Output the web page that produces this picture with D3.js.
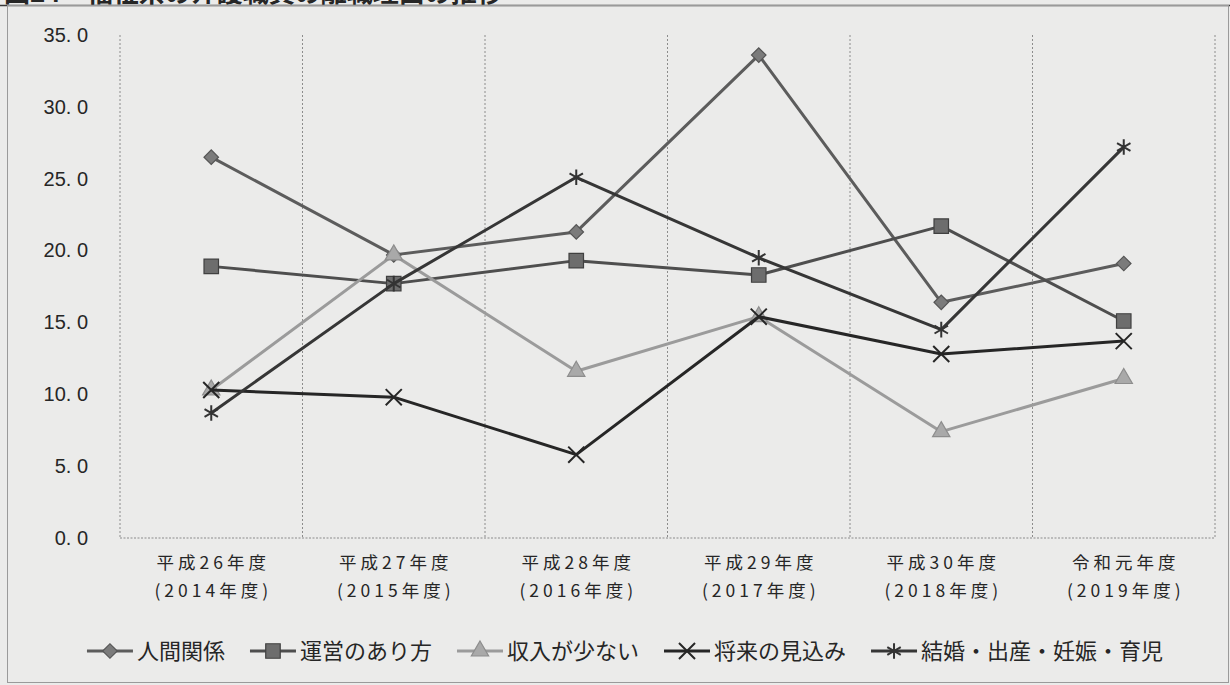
<!DOCTYPE html>
<html lang="ja">
<head>
<meta charset="utf-8">
<script src="https://cdn.jsdelivr.net/npm/d3@7"></script>
<style>
  html, body { margin: 0; padding: 0; background: #ebebea; }
  svg { display: block; }
  text { fill: #262626; }
</style>
</head>
<body>
<svg id="chart" width="1230" height="685"></svg>
<script>
// ---- data ----
const categories = ["H26", "H27", "H28", "H29", "H30", "R1"];
const categoryLine1 = ["平成26年度", "平成27年度", "平成28年度", "平成29年度", "平成30年度", "令和元年度"];
const categoryLine2 = ["(2014年度)", "(2015年度)", "(2016年度)", "(2017年度)", "(2018年度)", "(2019年度)"];

const seriesNames = ["人間関係", "運営のあり方", "収入が少ない", "将来の見込み", "結婚・出産・妊娠・育児"];
const humanRelations = [26.5, 19.7, 21.3, 33.6, 16.4, 19.1];
const management     = [18.9, 17.7, 19.3, 18.3, 21.7, 15.1];
const lowIncome      = [10.3, 19.7, 11.6, 15.4, 7.4, 11.1];
const futureOutlook  = [10.3, 9.8, 5.8, 15.4, 12.8, 13.7];
const lifeEvents     = [8.7, 17.7, 25.1, 19.5, 14.5, 27.2];

const yTicks = [0, 5, 10, 15, 20, 25, 30, 35];
const titleText = "図24　福祉系の介護職員の離職理由の推移";

// ---- styles ----
const styles = [
  { line: "#5c5c5c", fill: "#7b7b7b", stroke: "#555", symbol: d3.symbolSquare, size: 105, rotate: 45, filled: true },
  { line: "#4e4e4e", fill: "#6d6d6d", stroke: "#404040", symbol: d3.symbolSquare, size: 210, rotate: 0, filled: true },
  { line: "#9b9b9b", fill: "#a9a9a9", stroke: "#8d8d8d", symbol: d3.symbolTriangle, size: 130, rotate: 0, filled: true },
  { line: "#262626", fill: "none", stroke: "#262626", symbol: d3.symbolTimes, size: 170, rotate: 0, filled: false },
  { line: "#363636", fill: "none", stroke: "#333", symbol: d3.symbolAsterisk, size: 170, rotate: 0, filled: false }
];
const seriesValues = [humanRelations, management, lowIncome, futureOutlook, lifeEvents];

const svg = d3.select("#chart");
const W = 1230, H = 685;
const plot = { left: 120, right: 1215, top: 35, bottom: 538 };

svg.append("rect").attr("width", W).attr("height", H).attr("fill", "#ebebea");

// heading (runs along the very top edge) and outer frame
svg.append("text")
  .attr("x", 4).attr("y", 2)
  .attr("font-family", "'Noto Sans CJK JP', sans-serif")
  .attr("font-size", 26).attr("font-weight", 700)
  .text(titleText);
svg.append("line").attr("x1", 0).attr("x2", W).attr("y1", 5.5).attr("y2", 5.5)
  .attr("stroke", "#3a3a3a").attr("stroke-width", 1.5);
svg.append("rect")
  .attr("x", 7.5).attr("y", 5.5).attr("width", 1221).attr("height", 677)
  .attr("fill", "none").attr("stroke", "#9a9a9a").attr("stroke-width", 1);

// ---- scales ----
const x = d3.scaleBand().domain(categories).range([plot.left, plot.right]).padding(0);
const y = d3.scaleLinear().domain([0, 35]).range([plot.bottom, plot.top]);
const cx = c => x(c) + x.bandwidth() / 2;

// vertical dotted separators between categories
const bounds = categories.map(c => x(c)).concat([x(categories[categories.length - 1]) + x.bandwidth()]);
svg.append("g").selectAll("line").data(bounds).join("line")
  .attr("x1", d => d).attr("x2", d => d)
  .attr("y1", plot.top).attr("y2", plot.bottom)
  .attr("stroke", "#8c8c8c").attr("stroke-width", 1).attr("stroke-dasharray", "2,2");
svg.append("line")
  .attr("x1", plot.left).attr("x2", plot.right).attr("y1", plot.bottom).attr("y2", plot.bottom)
  .attr("stroke", "#8c8c8c").attr("stroke-width", 1.2).attr("stroke-dasharray", "2,1.5");

// ---- y axis ----
const yAxis = d3.axisLeft(y).tickValues(yTicks).tickSize(0).tickPadding(32)
  .tickFormat(d => d3.format(".1f")(d).replace(".", ". "));
const gy = svg.append("g").attr("transform", `translate(${plot.left},0)`).call(yAxis);
gy.select(".domain").remove();
gy.selectAll("text")
  .attr("font-family", "'Liberation Sans Narrow', 'Liberation Sans', sans-serif")
  .attr("font-size", 20).attr("fill", "#262626")
  .style("white-space", "pre");

// ---- x axis labels (two lines) ----
const xl = svg.append("g")
  .attr("font-family", "'Noto Sans CJK JP', sans-serif")
  .attr("font-size", 17.5)
  .attr("text-anchor", "middle")
  .style("letter-spacing", "4px");
xl.selectAll("text.l1").data(categories).join("text").attr("class", "l1")
  .attr("x", d => cx(d) + 2).attr("y", 569)
  .text((d, i) => categoryLine1[i]);
xl.selectAll("text.l2").data(categories).join("text").attr("class", "l2")
  .attr("x", d => cx(d) + 2).attr("y", 597)
  .text((d, i) => categoryLine2[i]);

// ---- series ----
function drawMarker(g, st, px, py) {
  g.append("path")
    .attr("d", d3.symbol().type(st.symbol).size(st.size)())
    .attr("transform", `translate(${px},${py}) rotate(${st.rotate})`)
    .attr("fill", st.filled ? st.fill : "none")
    .attr("stroke", st.stroke)
    .attr("stroke-width", st.filled ? 1.2 : 2);
}

const lineGen = d3.line().x((d, i) => cx(categories[i])).y(d => y(d));
seriesValues.forEach((vals, si) => {
  const st = styles[si];
  const g = svg.append("g");
  g.append("path").datum(vals)
    .attr("d", lineGen)
    .attr("fill", "none").attr("stroke", st.line)
    .attr("stroke-width", 3).attr("stroke-linejoin", "round");
  vals.forEach((v, i) => drawMarker(g, st, cx(categories[i]), y(v)));
});

// ---- legend ----
const legend = svg.append("g")
  .attr("font-family", "'Noto Sans CJK JP', sans-serif")
  .attr("font-size", 22);
const legendY = 651;
const swatchW = 46, textGap = 4, itemGap = 25;
// measure items, then center the row
const items = seriesNames.map((name, i) => {
  const t = legend.append("text").attr("y", legendY + 8).text(name);
  return { name, i, t, w: t.node().getComputedTextLength() };
});
const total = d3.sum(items, d => swatchW + textGap + d.w) + itemGap * (items.length - 1);
let lx = 625 - total / 2;
items.forEach(it => {
  const st = styles[it.i];
  legend.append("line")
    .attr("x1", lx).attr("x2", lx + swatchW).attr("y1", legendY).attr("y2", legendY)
    .attr("stroke", st.line).attr("stroke-width", 3);
  drawMarker(legend, st, lx + swatchW / 2, legendY);
  it.t.attr("x", lx + swatchW + textGap);
  lx += swatchW + textGap + it.w + itemGap;
});
</script>
</body>
</html>
